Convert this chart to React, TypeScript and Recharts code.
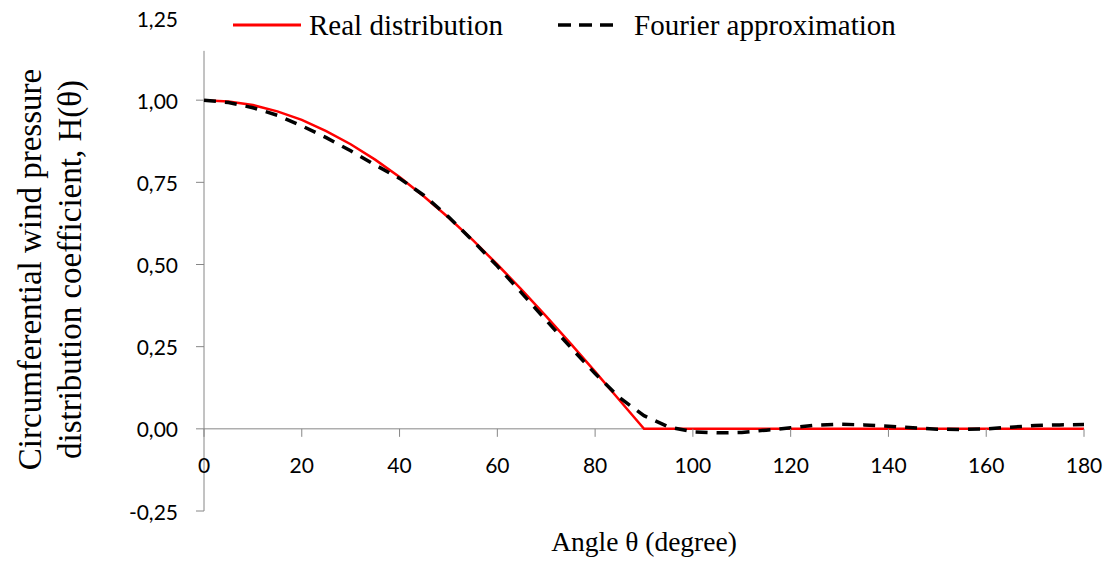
import { CartesianGrid, Legend, Line, LineChart, ReferenceLine, XAxis, YAxis } from "recharts";

// angle θ in degrees, read every 5°
const angles = [
  0, 5, 10, 15, 20, 25, 30, 35, 40, 45, 50, 55, 60, 65, 70, 75, 80, 85, 90,
  95, 100, 105, 110, 115, 120, 125, 130, 135, 140, 145, 150, 155, 160, 165, 170, 175, 180,
];

const realDistribution = [
  1.0, 0.996, 0.985, 0.966, 0.94, 0.906, 0.866, 0.819, 0.766, 0.707, 0.643, 0.574, 0.5, 0.423, 0.342, 0.259, 0.174, 0.087, 0.0,
  0, 0, 0, 0, 0, 0, 0, 0, 0, 0, 0, 0, 0, 0, 0, 0, 0, 0,
];

const fourierApprox = [
  1.0, 0.993, 0.977, 0.954, 0.922, 0.886, 0.846, 0.803, 0.762, 0.71, 0.645, 0.572, 0.495, 0.413, 0.33, 0.248, 0.168, 0.095, 0.04,
  0.006, -0.009, -0.012, -0.011, -0.004, 0.003, 0.011, 0.014, 0.012, 0.008, 0.003, -0.001, -0.002, 0.0, 0.005, 0.01, 0.012, 0.013,
];

const xTicks = [0, 20, 40, 60, 80, 100, 120, 140, 160, 180];
const yTicks = [-0.25, 0, 0.25, 0.5, 0.75, 1, 1.25];

const data = angles.map((angle, i) => ({ angle, real: realDistribution[i], fourier: fourierApprox[i] }));

const W = 1112;
const H = 571;
const TOP = 18;
const X_AXIS_H = 60;
const Y_AXIS_W = 204;
const Y_MIN = -0.25;
const Y_MAX = 1.25;
// the legend box hides the top of the value axis in the source
const Y_AXIS_VISIBLE_TOP = 1.15;
const AXIS = "#868686";
const SERIF = "'Liberation Serif', 'Times New Roman', serif";
const SANS = "Lato, 'Open Sans', sans-serif";

// the horizontal axis crosses at 0 like in Excel, not at the bottom of the plot
const PLOT_H = H - TOP - X_AXIS_H;
const ZERO_Y = TOP + (PLOT_H * Y_MAX) / (Y_MAX - Y_MIN);

const fmt = (v: number) => v.toFixed(2).replace(".", ",");

function AngleTick({ x, payload }: any) {
  return (
    <g>
      <line x1={x} x2={x} y1={ZERO_Y} y2={ZERO_Y + 8} stroke={AXIS} />
      <text x={x} y={ZERO_Y + 36} textAnchor="middle" dominantBaseline="central" fontFamily={SANS} fontSize={21} fill="#000">
        {payload.value}
      </text>
    </g>
  );
}

function ValueTick({ y, payload }: any) {
  const hidden = payload.value > Y_AXIS_VISIBLE_TOP;
  return (
    <g>
      {!hidden && <line x1={Y_AXIS_W - 8} x2={Y_AXIS_W} y1={y} y2={y} stroke={AXIS} />}
      <text x={Y_AXIS_W - 26} y={y} textAnchor="end" dominantBaseline="central" fontFamily={SANS} fontSize={21} fill="#000">
        {fmt(payload.value)}
      </text>
    </g>
  );
}

function YTitle({ viewBox }: any) {
  const cy = viewBox.y + viewBox.height / 2 + 5;
  return (
    <g fontFamily={SERIF} fontSize={33} fill="#000">
      <text x={30} y={cy} textAnchor="middle" dominantBaseline="central" transform={`rotate(-90, 30, ${cy})`}>
        Circumferential wind pressure
      </text>
      <text x={70} y={cy} textAnchor="middle" dominantBaseline="central" transform={`rotate(-90, 70, ${cy})`}>
        distribution coefficient, H(θ)
      </text>
    </g>
  );
}

function XTitle({ viewBox }: any) {
  return (
    <text x={viewBox.x + viewBox.width / 2} y={541} textAnchor="middle" dominantBaseline="central" fontFamily={SERIF} fontSize={27.5} fill="#000">
      Angle θ (degree)
    </text>
  );
}

function LegendBox() {
  return (
    <svg width={730} height={50} style={{ display: "block" }}>
      <line x1={43} x2={111} y1={25} y2={25} stroke="#ff0000" strokeWidth={3} />
      <text x={119} y={35} fontFamily={SERIF} fontSize={29} fill="#000">
        Real distribution
      </text>
      <line x1={368} x2={423} y1={25} y2={25} stroke="#000" strokeWidth={3.5} strokeDasharray="13 8" />
      <text x={444} y={35} fontFamily={SERIF} fontSize={29} fill="#000">
        Fourier approximation
      </text>
    </svg>
  );
}

export default function App() {
  return (
    <div style={{ position: "absolute", left: 0, top: 0, width: W, height: H, background: "#fff" }}>
      <LineChart width={W} height={H} data={data} margin={{ top: TOP, right: 28, bottom: 0, left: 0 }}>
        <CartesianGrid vertical={false} horizontalValues={[0]} stroke={AXIS} />
        <ReferenceLine
          segment={[
            { x: 0, y: Y_MIN },
            { x: 0, y: Y_AXIS_VISIBLE_TOP },
          ]}
          stroke={AXIS}
        />
        <XAxis
          dataKey="angle"
          type="number"
          domain={[0, 180]}
          ticks={xTicks}
          interval={0}
          height={X_AXIS_H}
          axisLine={false}
          tickLine={false}
          tick={<AngleTick />}
          label={{ content: <XTitle /> }}
        />
        <YAxis
          type="number"
          domain={[Y_MIN, Y_MAX]}
          ticks={yTicks}
          interval={0}
          width={Y_AXIS_W}
          axisLine={false}
          tickLine={false}
          tick={<ValueTick />}
          label={{ content: <YTitle /> }}
        />
        <Legend
          layout="horizontal"
          verticalAlign="middle"
          align="center"
          content={<LegendBox />}
          wrapperStyle={{ top: 0, left: 190, width: 730, height: 50 }}
        />
        <Line type="linear" dataKey="real" stroke="#ff0000" strokeWidth={2.5} dot={false} activeDot={false} isAnimationActive={false} />
        <Line
          type="linear"
          dataKey="fourier"
          stroke="#000"
          strokeWidth={3.5}
          strokeDasharray="12 9"
          dot={false}
          activeDot={false}
          isAnimationActive={false}
        />
      </LineChart>
    </div>
  );
}
